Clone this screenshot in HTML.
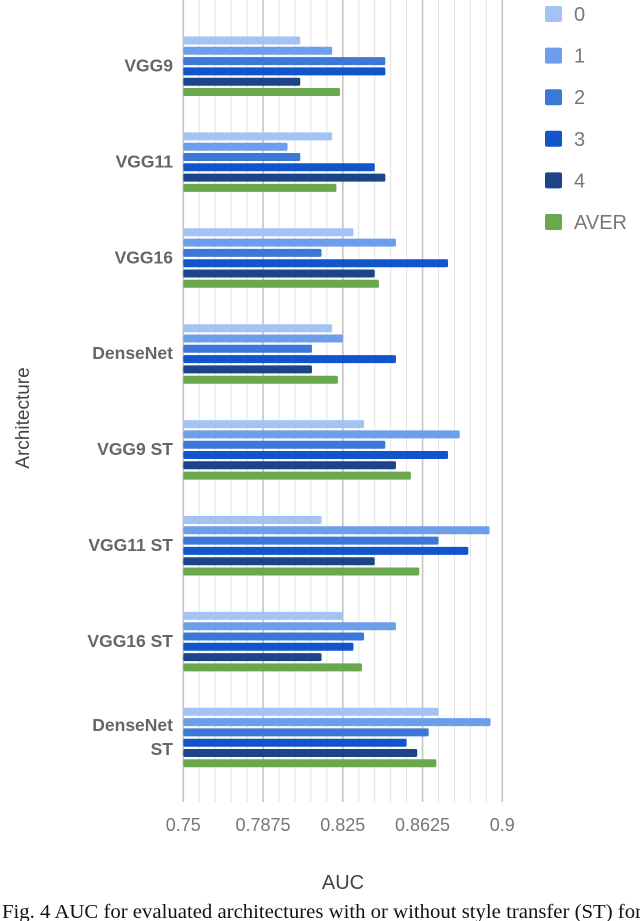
<!DOCTYPE html>
<html><head><meta charset="utf-8"><style>
body{margin:0;background:#fff;width:640px;height:921px;overflow:hidden;}
svg{display:block}
</style></head><body>
<svg id="chart" width="640" height="921" xmlns="http://www.w3.org/2000/svg">
<g id="grid"></g><g id="bars"></g><g id="labels"></g><g id="legend"></g>
<text x="343" y="889" font-family="Liberation Sans, sans-serif" font-size="20" fill="#444" text-anchor="middle">AUC</text>
<text transform="translate(29,418) rotate(-90)" font-family="Liberation Sans, sans-serif" font-size="19" fill="#444" text-anchor="middle">Architecture</text>
<text x="2" y="918" font-family="Liberation Serif, serif" font-size="20" fill="#111" textLength="640" lengthAdjust="spacingAndGlyphs">Fig. 4 AUC for evaluated architectures with or without style transfer (ST) for</text>
</svg>
<script>
const categories=["VGG9","VGG11","VGG16","DenseNet","VGG9 ST","VGG11 ST","VGG16 ST","DenseNet ST"];
const seriesNames=["0","1","2","3","4","AVER"];
const s0=[0.805,0.820,0.830,0.820,0.835,0.815,0.825,0.870];
const s1=[0.820,0.799,0.850,0.825,0.880,0.894,0.850,0.8945];
const s2=[0.845,0.805,0.815,0.8105,0.845,0.870,0.835,0.8654];
const s3=[0.845,0.840,0.8745,0.850,0.8745,0.884,0.830,0.855];
const s4=[0.805,0.845,0.840,0.8105,0.850,0.840,0.815,0.860];
const sAvg=[0.8237,0.822,0.842,0.8227,0.857,0.861,0.834,0.869];
const tickLabels=["0.75","0.7875","0.825","0.8625","0.9"];
const tickValues=[0.75,0.7875,0.825,0.8625,0.9];
const series=[s0,s1,s2,s3,s4,sAvg];
const colors=["#a4c2f4","#6d9eeb","#3c78d8","#1155cc","#1c4587","#6aa84f"];
const NS="http://www.w3.org/2000/svg";
const x0=183.3,x1=502.3,vmin=0.75,vmax=0.9;
const xs=v=>x0+(v-vmin)/(vmax-vmin)*(x1-x0);
const groupTop=i=>36.5+i*95.9;
const barY=(i,j)=>groupTop(i)+j*10.3;
function mk(tag,attrs,parent){const e=document.createElementNS(NS,tag);for(const k in attrs)e.setAttribute(k,attrs[k]);document.getElementById(parent).appendChild(e);return e;}
for(let k=0;k<=20;k++){const v=vmin+k*0.0075;const major=k%5===0;
const l=mk("line",{x1:xs(v),x2:xs(v),y1:0,y2:802,stroke:major?"#c4c4c4":"#e3e3e3","stroke-width":major?1.6:1},"grid");

}
tickValues.forEach((v,k)=>{const t=mk("text",{x:xs(v),y:831,"font-family":"Liberation Sans, sans-serif","font-size":"18",fill:"#777","text-anchor":"middle"},"labels");t.textContent=tickLabels[k];

});
categories.forEach((c,i)=>{
series.forEach((s,j)=>{const r=mk("rect",{x:x0,y:barY(i,j),width:xs(s[i])-x0,height:8,fill:colors[j],rx:1.5},"bars");

});
const cy=groupTop(i)+29;
const parts=c==="DenseNet ST"?["DenseNet","ST"]:[c];
parts.forEach((p,k)=>{const t=mk("text",{x:173,y:cy+6+(parts.length>1?(k-0.5)*24:0),"font-family":"Liberation Sans, sans-serif","font-size":"17.5","font-weight":"bold",fill:"#666","text-anchor":"end"},"labels");t.textContent=p;

});
});
seriesNames.forEach((n,j)=>{const cy=14+j*41.6;
const r=mk("rect",{x:545,y:cy-8,width:17,height:16,fill:colors[j],rx:2},"legend");


const t=mk("text",{x:574,y:cy+7,"font-family":"Liberation Sans, sans-serif","font-size":"20",fill:"#777"},"legend");t.textContent=n;

});
</script>
</body></html>
